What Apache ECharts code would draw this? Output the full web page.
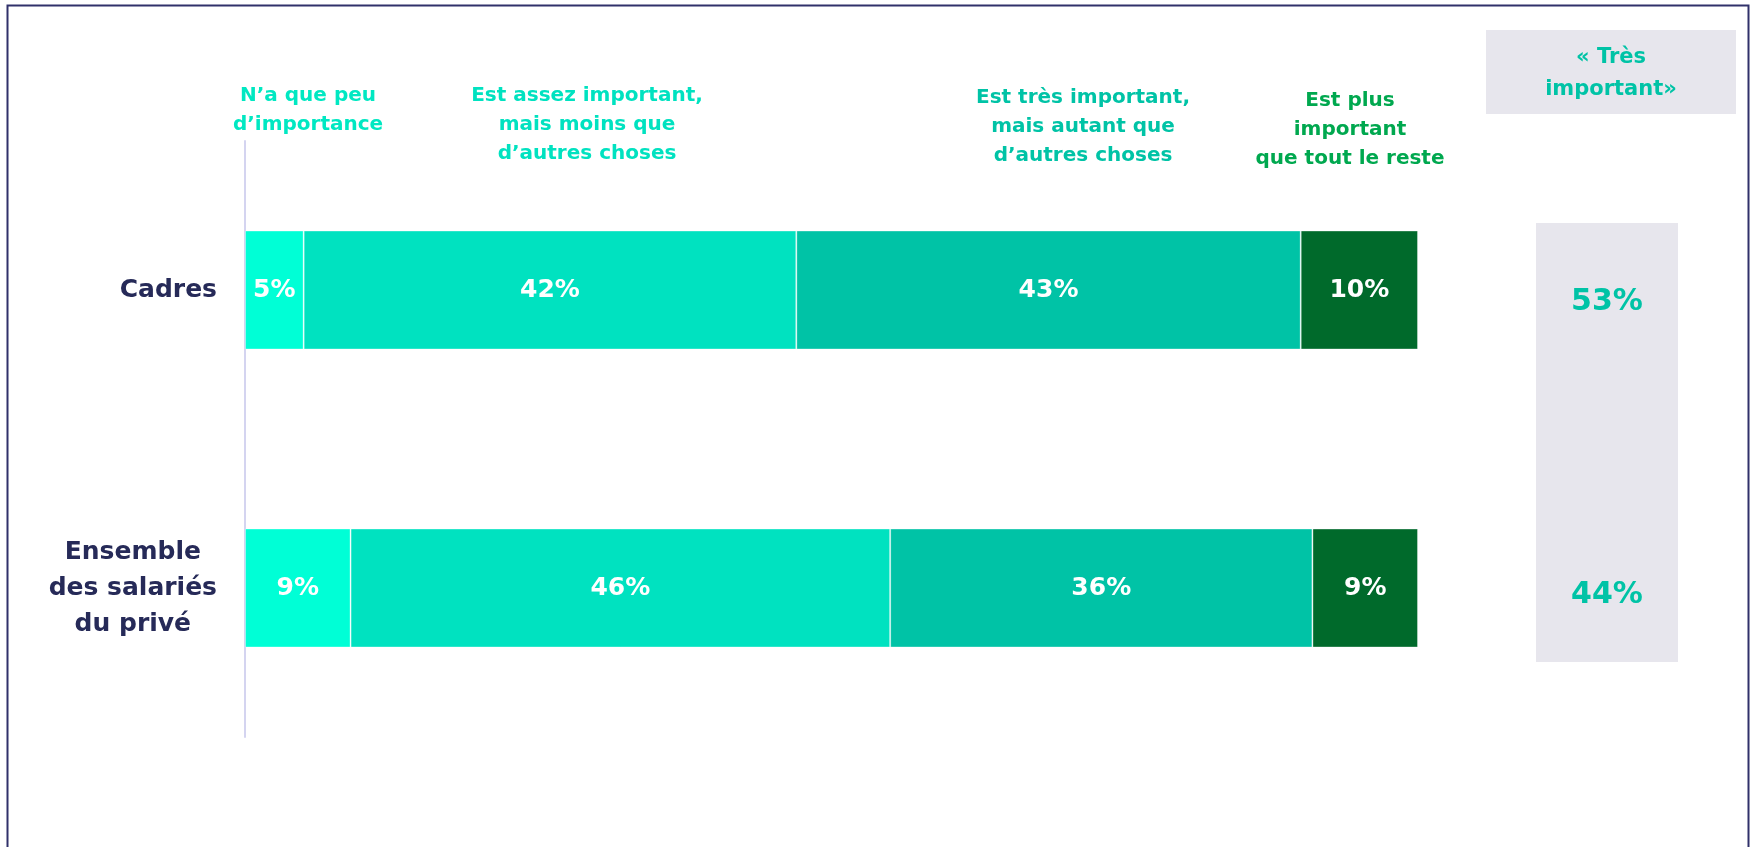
<!DOCTYPE html>
<html><head><meta charset="utf-8">
<script src="https://cdn.jsdelivr.net/npm/echarts@6/dist/echarts.min.js"></script>
<style>html,body{margin:0;padding:0;background:#fff}#c{width:1755px;height:847px}</style>
</head><body><div id="c"></div>
<script>
// ---- data ----
const categories = ['Cadres', 'Ensemble\ndes salariés\ndu privé'];
const seriesNames = [
  'N’a que peu\nd’importance',
  'Est assez important,\nmais moins que\nd’autres choses',
  'Est très important,\nmais autant que\nd’autres choses',
  'Est plus\nimportant\nque tout le reste'
];
const peuImportance = [5, 9];
const assezImportant = [42, 46];
const tresImportantAutant = [43, 36];
const plusImportant = [10, 9];
const tresImportantTotal = [53, 44];
const totalHeader = '« Très\nimportant»';

// ---- styles ----
const FONT = 'DejaVu Sans';
const segColors = ['#00ffd6', '#00e2c0', '#00c3a6', '#006a2b'];
const headColors = ['#00e8c2', '#00e2c0', '#00c3a6', '#00a84f'];
const headX = [308, 587, 1083, 1350];
const headY = [110.5, 125, 127, 129.5];
const seriesData = [peuImportance, assezImportant, tresImportantAutant, plusImportant];

const chart = echarts.init(document.getElementById('c'));

const barSeries = seriesData.map((d, i) => ({
  name: seriesNames[i],
  type: 'bar',
  stack: 'total',
  xAxisIndex: 0, yAxisIndex: 0,
  barWidth: 119,
  data: d,
  itemStyle: { color: segColors[i], borderColor: 'rgba(255,255,255,0.35)', borderWidth: 1 },
  label: {
    show: true, position: 'inside', formatter: '{c}%',
    color: '#ffffff', fontFamily: FONT, fontWeight: 'bold', fontSize: 25
  },
  emphasis: { disabled: true },
  z: 3
}));

const graphics = [
  { type: 'rect', z: 0, shape: { x: 7.5, y: 5.5, width: 1741, height: 900 },
    style: { fill: 'none', stroke: '#30316a', lineWidth: 2 } },
  { type: 'rect', z: 0, shape: { x: 1536, y: 223, width: 142, height: 439 },
    style: { fill: '#e7e6ed' } },
  { type: 'rect', z: 0, shape: { x: 1486, y: 30, width: 250, height: 84 },
    style: { fill: '#e7e6ed' } },
  { type: 'text', z: 5, style: {
      text: totalHeader, x: 1611, y: 74, align: 'center', verticalAlign: 'middle',
      textAlign: 'center', textVerticalAlign: 'middle', lineHeight: 32,
      fill: '#00c3a6', fontFamily: FONT, fontWeight: 'bold', fontSize: 21 } }
];
seriesNames.forEach((n, i) => {
  graphics.push({ type: 'text', z: 5, style: {
    text: n, x: headX[i], y: headY[i], align: 'center', verticalAlign: 'middle',
    textAlign: 'center', textVerticalAlign: 'middle', lineHeight: 29,
    fill: headColors[i], fontFamily: FONT, fontWeight: 'bold', fontSize: 20 } });
});

chart.setOption({
  animation: false,
  backgroundColor: '#ffffff',
  grid: [
    { left: 245, right: 337, top: 141, height: 596 },
    { left: 1536, width: 142, top: 155.5, height: 586 }
  ],
  xAxis: [
    { gridIndex: 0, type: 'value', min: 0, max: 100, show: false },
    { gridIndex: 1, type: 'value', min: 0, max: 1, show: false }
  ],
  yAxis: [
    { gridIndex: 0, type: 'category', data: categories, inverse: true,
      axisLine: { show: true, lineStyle: { color: '#d4d4f0', width: 2 } },
      axisTick: { show: false }, splitLine: { show: false },
      axisLabel: {
        margin: 28, align: 'right', fontSize: 25, fontWeight: 'bold', fontFamily: FONT, color: '#262a58',
        lineHeight: 36,
        formatter: v => v.split('\n').map(s => '{c|' + s + '}').join('\n'),
        rich: { c: { align: 'center', fontSize: 25, fontWeight: 'bold', fontFamily: FONT, color: '#262a58', lineHeight: 36 } }
      } },
    { gridIndex: 1, type: 'category', data: categories, inverse: true, show: false }
  ],
  graphic: graphics,
  series: barSeries.concat([{
    type: 'scatter', xAxisIndex: 1, yAxisIndex: 1,
    symbol: 'circle', symbolSize: 2, itemStyle: { color: 'rgba(0,0,0,0)', opacity: 1 },
    data: tresImportantTotal.map((v, i) => [0.5, i, v]),
    label: {
      show: true, position: 'inside', formatter: p => p.value[2] + '%', opacity: 1,
      color: '#00c3a6', fontFamily: FONT, fontWeight: 'bold', fontSize: 30
    },
    emphasis: { disabled: true },
    z: 6
  }])
});
</script></body></html>
